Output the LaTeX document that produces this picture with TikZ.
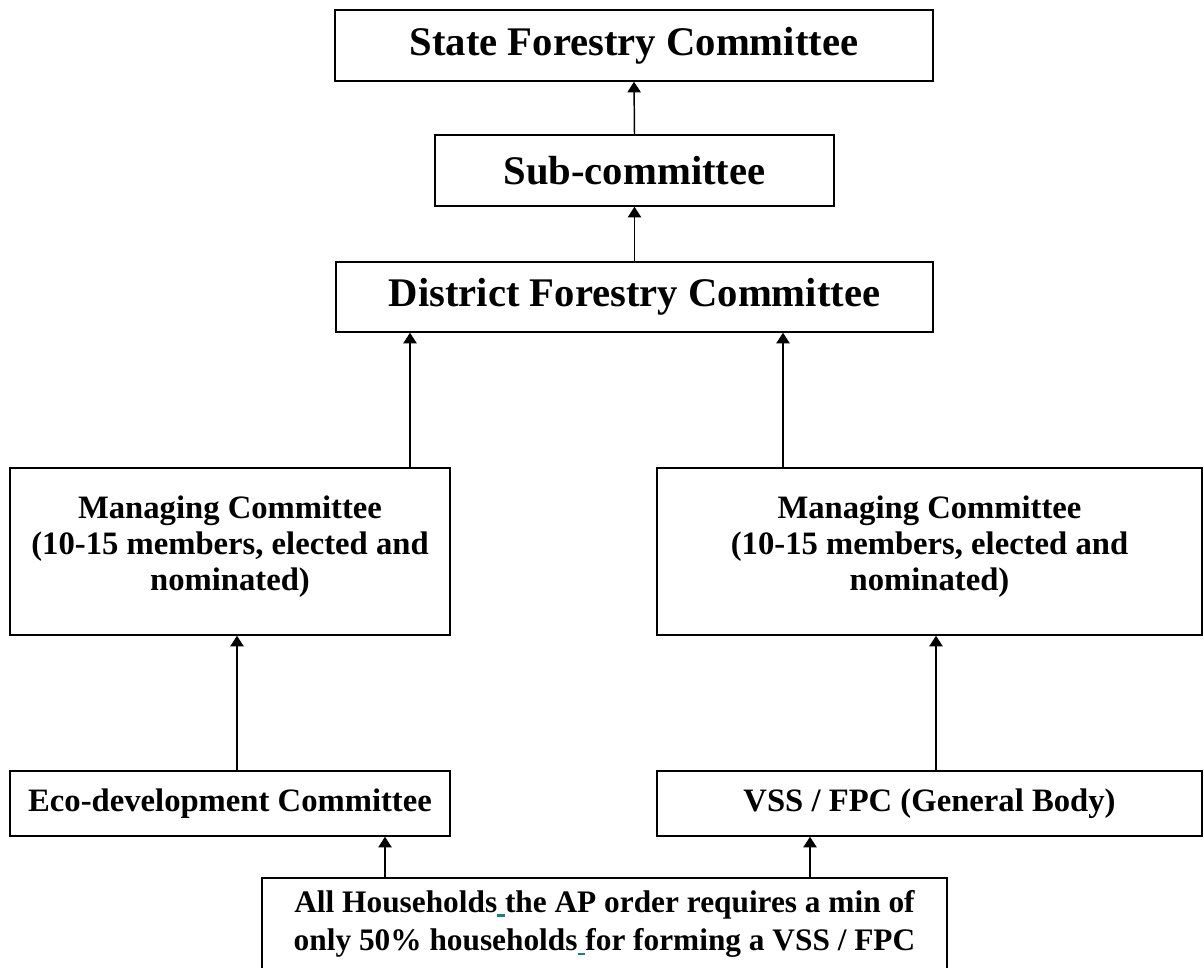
\documentclass[tikz,border=0pt]{standalone}
\usepackage{fontspec}
\setmainfont{Liberation Serif}
\usetikzlibrary{arrows.meta}
\definecolor{linkteal}{RGB}{20,130,135}
\newcommand\tealsp{\makebox[0.25em][l]{\textcolor{linkteal}{\rule[-0.14em]{0.24em}{0.08em}}}}
\begin{document}
\begin{tikzpicture}[x=0.75pt,y=-0.75pt,
  box/.style={draw,line width=1.1pt,inner sep=0pt,align=center,font=\bfseries},
  big/.style={font=\fontsize{30.5}{32}\selectfont\bfseries},
  small/.style={font=\fontsize{24.5}{27}\selectfont\bfseries},
  txt/.style={inner sep=0pt,align=center,font=\fontsize{23.5}{29}\selectfont\bfseries},
  arr/.style={line width=1.1pt,-{Triangle[width=10pt,length=8pt]}}]
\useasboundingbox (0,0) rectangle (1204,968);
\node[box,big,minimum width=448.5pt,minimum height=53.25pt] (state) at (634,45.5) {State Forestry Committee};
\node[box,big,minimum width=299.25pt,minimum height=53.25pt] (sub) at (634.5,170.5) {Sub-committee};
\node[box,big,minimum width=447.75pt,minimum height=52.5pt] (dist) at (634.5,297) {District Forestry Committee};
\node[box,minimum width=330pt,minimum height=125.25pt] (mcl) at (230,551.5) {};
\node[txt,small] (mcltext) at (230,547) {Managing Committee\\(10-15 members, elected and\\nominated)};
\node[box,minimum width=408.75pt,minimum height=125.25pt] (mcr) at (929.5,551.5) {};
\node[txt,small] (mcrtext) at (929.5,547) {Managing Committee\\(10-15 members, elected and\\nominated)};
\node[box,small,minimum width=330pt,minimum height=48.75pt] (eco) at (230,803.5) {Eco-development Committee};
\node[box,small,minimum width=408.75pt,minimum height=48.75pt] (vss) at (929.5,803.5) {VSS / FPC (General Body)};
\node[box,minimum width=513.75pt,minimum height=91.5pt] (all) at (604.5,939) {};
\node[txt] (alltext) at (604.5,924) {All Households\tealsp the AP order requires a min of\\only 50\% households\tealsp for forming a VSS / FPC};
\coordinate (xla) at (410,0);
\coordinate (xra) at (783,0);
\coordinate (xle) at (237,0);
\coordinate (xrv) at (936,0);
\coordinate (xbl) at (385,0);
\coordinate (xbr) at (810,0);
\draw[arr] (sub.north) -- (state.south);
\draw[arr] (dist.north) -- (sub.south);
\draw[arr] (mcl.north -| xla) -- (dist.south -| xla);
\draw[arr] (mcr.north -| xra) -- (dist.south -| xra);
\draw[arr] (eco.north -| xle) -- (mcl.south -| xle);
\draw[arr] (vss.north -| xrv) -- (mcr.south -| xrv);
\draw[arr] (all.north -| xbl) -- (eco.south -| xbl);
\draw[arr] (all.north -| xbr) -- (vss.south -| xbr);
\end{tikzpicture}
\end{document}
